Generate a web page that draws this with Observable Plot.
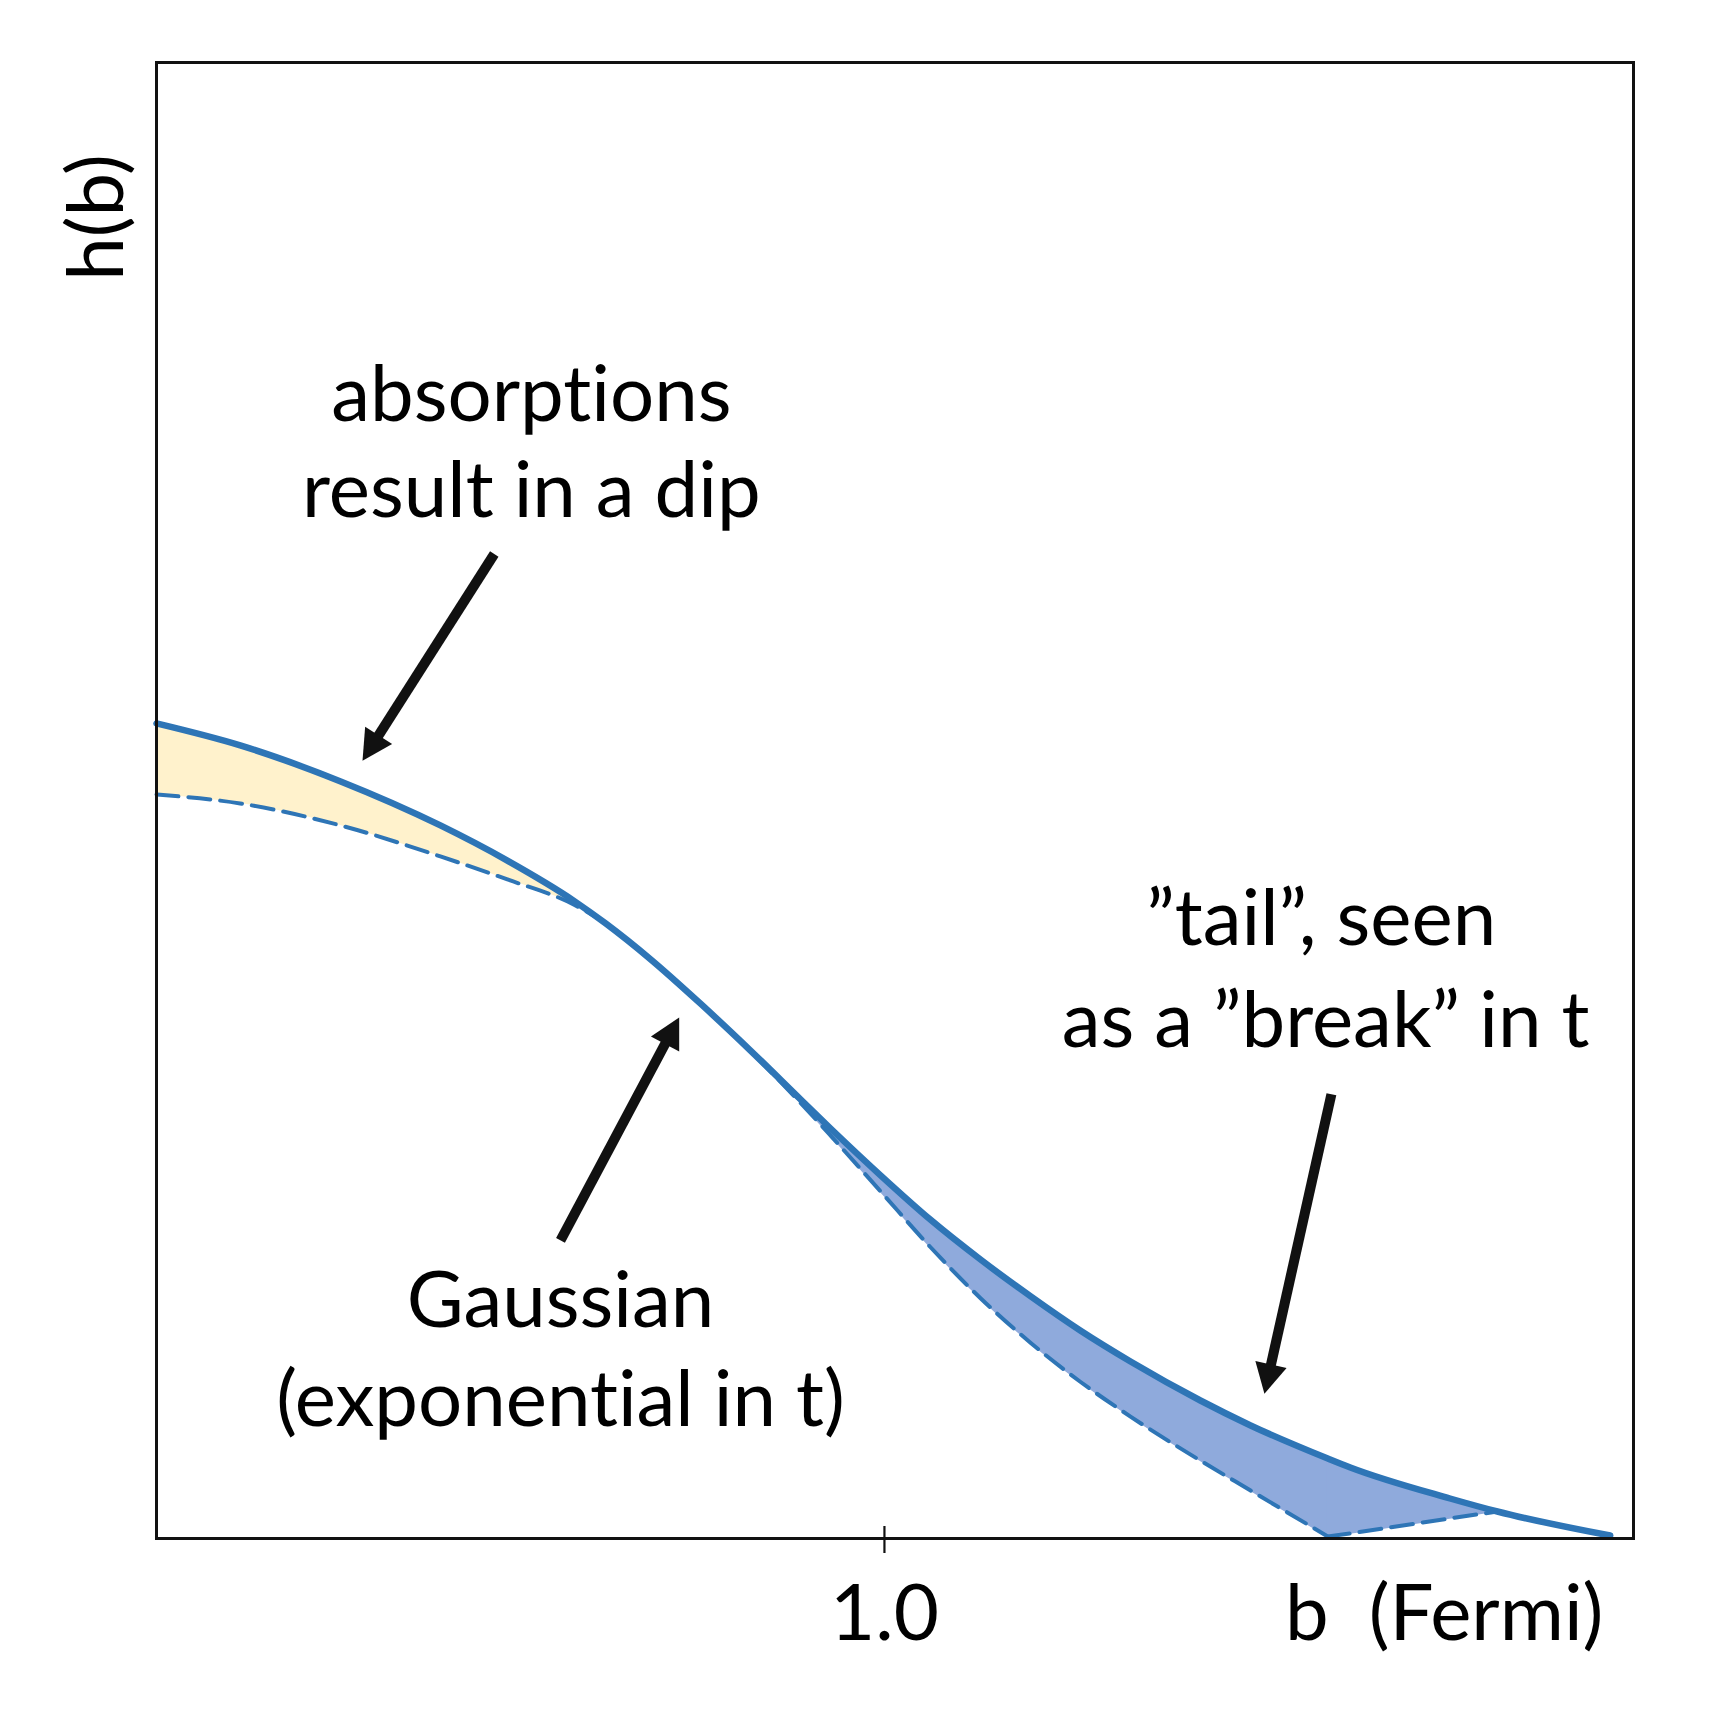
<!DOCTYPE html>
<html>
<head>
<meta charset="utf-8">
<script src="https://cdn.jsdelivr.net/npm/d3@7"></script>
<script src="https://cdn.jsdelivr.net/npm/@observablehq/plot@0.6"></script>
<style>
  html, body { margin: 0; padding: 0; background: #ffffff; }
  svg { display: block; }
  svg text { font-variant-ligatures: none; font-feature-settings: "liga" 0, "clig" 0; }
</style>
</head>
<body>
<div id="chart"></div>
<script>
// ---- data ----
// impact parameter b (Fermi)
const bValues   = [0, 0.115, 0.253, 0.390, 0.482, 0.573, 0.617, 0.679, 0.747, 0.816, 0.885, 0.926, 0.995, 1.063, 1.132, 1.201, 1.269, 1.338, 1.434, 1.503, 1.609, 1.640, 1.777, 1.842, 1.997];
// observed profile h(b) (solid)
const hObserved = [0.5522, 0.5373, 0.5129, 0.4831, 0.4593, 0.4322, 0.4167, 0.3923, 0.3625, 0.3306, 0.2974, 0.2778, 0.2459, 0.2161, 0.1890, 0.1640, 0.1409, 0.1199, 0.0935, 0.0766, 0.0542, 0.0481, 0.0271, 0.0183, 0.0020];
// Gaussian profile (dashed)
const hGaussian = [0.5041, 0.4980, 0.4831, 0.4621, 0.4465, 0.4295, 0.4167, 0.3923, 0.3625, 0.3300, 0.2950, 0.2730, 0.2350, 0.1975, 0.1628, 0.1325, 0.1062, 0.0826, 0.0528, 0.0325, 0.0014, 0.0034, 0.0136, 0.0183, null];
// b where the dashed profile has its kink (touches the axis)
const bKink = 1.609;

const xTicks = [1.0];
const xTickLabels = ["1.0"];
const xAxisLabel = "b\u00a0\u00a0(Fermi)";
const yAxisLabel = "h(b)";

// annotation lines (text, anchor b, anchor h = baseline)
const noteText = ["absorptions", "result in a dip", "\u201Dtail\u201D, seen", "as a \u201Dbreak\u201D in t", "Gaussian", "(exponential in t)"];
const noteB    = [0.515, 0.515, 1.600, 1.606, 0.555, 0.555];
const noteH    = [0.757, 0.692, 0.402, 0.333, 0.143, 0.076];

// arrows (from -> to)
const arrowFromB = [0.464, 0.555, 1.614];
const arrowFromH = [0.667, 0.202, 0.301];
const arrowToB   = [0.283, 0.718, 1.522];
const arrowToH   = [0.527, 0.353, 0.098];

// ---- layout ----
const W = 1713, H = 1713;
const mL = 156, mR = 80, mT = 62, mB = 175;
const xDomain = [0, 2.029], yDomain = [0, 1];
const kx = (W - mL - mR) / (xDomain[1] - xDomain[0]);
const ky = (H - mT - mB) / (yDomain[1] - yDomain[0]);
const FONT = "Lato, 'Open Sans', sans-serif";
const FS = 78;
const LINE = "#2E75B6";
const TAIL_FILL = "#8FAADC";

const rows = bValues.map((b, i) => ({b, obs: hObserved[i], gauss: hGaussian[i]}));
const gaussRows = rows.filter(d => d.gauss != null);
const notes = noteText.map((t, i) => ({t, b: noteB[i], h: noteH[i]}));
const arrows = arrowFromB.map((b, i) => ({x1: b, y1: arrowFromH[i], x2: arrowToB[i], y2: arrowToH[i]}));

const headSymbol = {
  draw(ctx) {
    ctx.moveTo(0, 0);
    ctx.lineTo(-16, 30);
    ctx.lineTo(16, 30);
    ctx.closePath();
  }
};

const dashed = {stroke: LINE, strokeWidth: 4, strokeDasharray: "22,10"};
const tailArea = {x: "b", y1: "gauss", y2: "obs", fill: TAIL_FILL, stroke: TAIL_FILL, strokeWidth: 1.5, curve: "monotone-x"};

const chart = Plot.plot({
  width: W,
  height: H,
  marginLeft: mL, marginRight: mR, marginTop: mT, marginBottom: mB,
  x: {domain: xDomain, axis: null},
  y: {domain: yDomain, axis: null},
  style: {background: "#ffffff", fontFamily: FONT},
  marks: [
    Plot.areaY(gaussRows.filter(d => d.b <= 0.62), {x: "b", y1: "gauss", y2: "obs", fill: "#FFF2CC", curve: "monotone-x"}),
    Plot.areaY(gaussRows.filter(d => d.b >= 0.81 && d.b <= bKink), tailArea),
    Plot.areaY(gaussRows.filter(d => d.b >= bKink), tailArea),
    Plot.line(gaussRows.filter(d => d.b <= bKink), {x: "b", y: "gauss", ...dashed, curve: "monotone-x"}),
    Plot.line(gaussRows.filter(d => d.b >= bKink), {x: "b", y: "gauss", ...dashed, curve: "linear"}),
    Plot.line(rows, {x: "b", y: "obs", stroke: LINE, strokeWidth: 6.5, curve: "monotone-x"}),
    Plot.frame({stroke: "#111", strokeWidth: 3}),
    Plot.ruleX(xTicks, {stroke: "#111", strokeWidth: 2.2, insetTop: (H - mT - mB) - 12, insetBottom: -15}),
    Plot.text(xTickLabels, {x: (d, i) => xTicks[i], text: d => d, frameAnchor: "bottom", dy: 101, lineAnchor: "bottom", textAnchor: "middle", fontSize: FS, fontFamily: FONT, fill: "#000"}),
    Plot.text([xAxisLabel], {x: () => 1.769, text: d => d, frameAnchor: "bottom", dy: 101, lineAnchor: "bottom", textAnchor: "middle", fontSize: FS, fontFamily: FONT, fill: "#000"}),
    Plot.text([yAxisLabel], {y: () => 0.895, text: d => d, frameAnchor: "left", dx: -34, rotate: -90, lineAnchor: "bottom", textAnchor: "middle", fontSize: FS, fontFamily: FONT, fill: "#000"}),
    Plot.text(notes, {x: "b", y: "h", text: "t", lineAnchor: "bottom", textAnchor: "middle", fontSize: FS, fontFamily: FONT, fill: "#000"}),
    Plot.arrow(arrows, {x1: "x1", y1: "y1", x2: "x2", y2: "y2", stroke: "#111", strokeWidth: 10, headLength: 0, insetEnd: 20, strokeLinecap: "butt"}),
    Plot.dot(arrows, {x: "x2", y: "y2", symbol: headSymbol, fill: "#111", stroke: "none", r: 10,
      rotate: d => Math.atan2((d.x2 - d.x1) * kx, (d.y2 - d.y1) * ky) * 180 / Math.PI})
  ]
});

document.getElementById("chart").appendChild(chart);
</script>
</body>
</html>
